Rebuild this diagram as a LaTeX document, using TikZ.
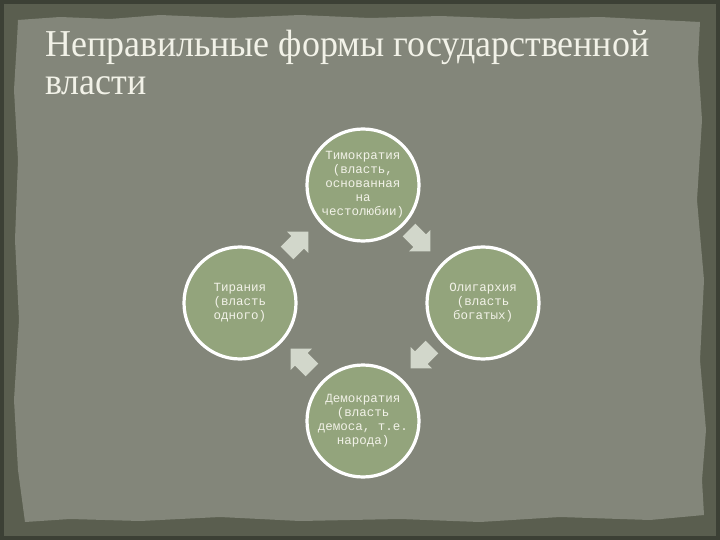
\documentclass[tikz,border=0pt]{standalone}
\usepackage{fontspec}
\setmainfont{Liberation Serif}
\newfontfamily\circfont{Liberation Mono}
\definecolor{frameDark}{HTML}{3C4035}
\definecolor{frameBand}{HTML}{5A5E4F}
\definecolor{paper}{HTML}{83867A}
\definecolor{sage}{HTML}{93A47C}
\definecolor{arrowFill}{HTML}{D2D7CB}
\definecolor{txt}{HTML}{F2F2E8}
\tikzset{
  stage/.style={circle, fill=sage, draw=white, line width=3.2pt, minimum size=112pt,
    inner sep=0pt, text=txt, align=center,
    font=\circfont\fontsize{12.5}{14}\selectfont},
  titletext/.style={text=txt, anchor=base west, inner sep=0pt,
    font=\fontsize{38}{38}\selectfont},
  cyclearrow/.pic={
    \fill[arrowFill] (-14,-9) -- (1,-9) -- (1,-15) -- (16,0) -- (1,15) -- (1,9) -- (-14,9) -- cycle;
  }
}
\begin{document}
\begin{tikzpicture}[x=1pt,y=-1pt]
\useasboundingbox (0,0) rectangle (720,540);
\fill[frameDark] (0,0) rectangle (720,540);
\fill[frameBand] (4,4) rectangle (716,536);
\fill[paper] (18,20) -- (60,17) -- (110,19) -- (160,15) -- (230,18) -- (300,15) -- (370,18)
  -- (440,16) -- (520,19) -- (600,17) -- (660,20) -- (700,22)
  -- (698,60) -- (702,120) -- (697,200) -- (704,280) -- (700,360) -- (706,430) -- (702,480) -- (704,515)
  -- (650,520) -- (560,517) -- (480,522) -- (400,519) -- (300,521) -- (220,517) -- (140,521) -- (70,519) -- (25,522)
  -- (18,470) -- (14,400) -- (19,320) -- (15,240) -- (18,160) -- (14,90) -- (17,40) -- cycle;

\node[titletext] (t1) at (45,57) {\scalebox{0.945}[1]{Неправильные формы государственной}};
\node[titletext] (t2) at (45,95) {\scalebox{0.945}[1]{власти}};

\node[stage] (tim) at (363,185) {Тимократия\\(власть,\\основанная\\на\\честолюбии)};
\node[stage] (oli) at (483,303) {Олигархия\\(власть\\богатых)};
\node[stage] (dem) at (363,421) {Демократия\\(власть\\демоса, т.е.\\народа)};
\node[stage] (tir) at (240,303) {Тирания\\(власть\\одного)};

\pic[rotate=45] (a1) at (297,243) {cyclearrow};
\pic[rotate=-45] (a2) at (419,240) {cyclearrow};
\pic[rotate=-135] (a3) at (422,357) {cyclearrow};
\pic[rotate=135] (a4) at (302,360) {cyclearrow};
\end{tikzpicture}
\end{document}
